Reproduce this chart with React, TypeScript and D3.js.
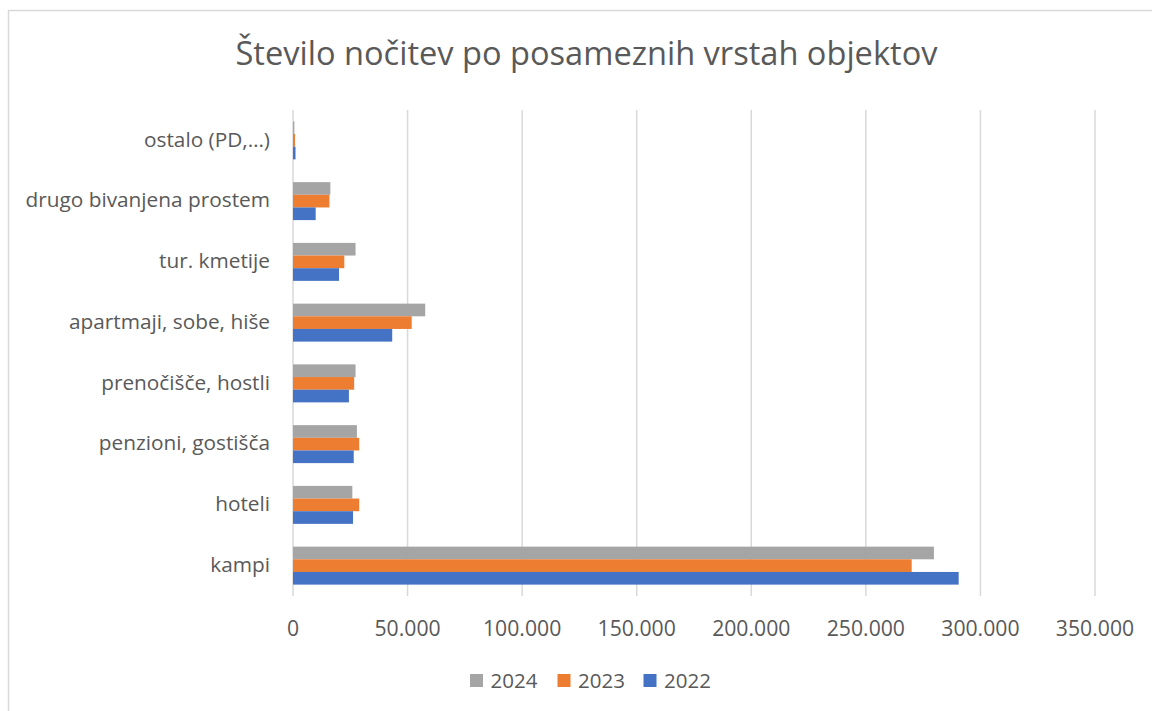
import React from "react";
import * as d3 from "d3";

const categories = [
  "ostalo (PD,…)",
  "drugo bivanjena prostem",
  "tur. kmetije",
  "apartmaji, sobe, hiše",
  "prenočišče, hostli",
  "penzioni, gostišča",
  "hoteli",
  "kampi",
];
const seriesNames = ["2024", "2023", "2022"];
const values2024 = [600, 16300, 27300, 57700, 27300, 27900, 25900, 279700];
const values2023 = [900, 15900, 22400, 51800, 26700, 28900, 28900, 270000];
const values2022 = [1100, 9900, 20100, 43300, 24400, 26500, 26200, 290500];
const seriesColors = ["#A5A5A5", "#ED7D31", "#4472C4"];
const xTicks = [0, 50000, 100000, 150000, 200000, 250000, 300000, 350000];
const title = "Število nočitev po posameznih vrstah objektov";

const W = 1152;
const H = 711;
const FONT = "'Open Sans', Lato, sans-serif";
const TEXT = "#595959";
const GRID = "#D9D9D9";

export default function App() {
  const plotLeft = 293;
  const plotRight = 1095;
  const plotTop = 110;
  const plotBottom = 596;

  const x = d3.scaleLinear().domain([0, 350000]).range([plotLeft, plotRight]);
  const y = d3
    .scaleBand<string>()
    .domain(categories)
    .range([plotTop, plotBottom])
    .paddingInner(0)
    .paddingOuter(0);
  const inner = d3
    .scaleBand<string>()
    .domain(seriesNames)
    .range([0, y.bandwidth()])
    .paddingInner(0)
    .paddingOuter(0.9);

  const allSeries = [values2024, values2023, values2022];
  const fmt = (v: number) =>
    v === 0 ? "0" : d3.format(",")(v).replace(/,/g, ".");

  const legendItems = [
    { name: "2024", color: seriesColors[0], x: 470 },
    { name: "2023", color: seriesColors[1], x: 557.5 },
    { name: "2022", color: seriesColors[2], x: 643.5 },
  ];

  return (
    <svg
      width={W}
      height={H}
      style={{ position: "absolute", left: 0, top: 0, background: "#fff" }}
      fontFamily={FONT}
    >
      <rect x={0} y={0} width={W} height={H} fill="#fff" />
      <rect
        x={8.5}
        y={10.5}
        width={W + 20}
        height={H + 20}
        fill="none"
        stroke={GRID}
        strokeWidth={1.5}
      />
      <text x={586.5} y={64.5} textAnchor="middle" fontSize={32.6} fill={TEXT}>
        {title}
      </text>

      {xTicks.map((t) => (
        <line
          key={"g" + t}
          x1={x(t)}
          x2={x(t)}
          y1={plotTop}
          y2={plotBottom}
          stroke={GRID}
          strokeWidth={1.5}
        />
      ))}

      {categories.map((c, i) => (
        <g key={c}>
          {allSeries.map((vals, si) => (
            <rect
              key={si}
              x={x(0)}
              y={(y(c) as number) + (inner(seriesNames[si]) as number)}
              width={x(vals[i]) - x(0)}
              height={inner.bandwidth()}
              fill={seriesColors[si]}
            />
          ))}
          <text
            x={270}
            y={(y(c) as number) + y.bandwidth() / 2}
            dy="0.3em"
            textAnchor="end"
            fontSize={20.8}
            fill={TEXT}
          >
            {c}
          </text>
        </g>
      ))}

      {xTicks.map((t) => (
        <text
          key={"t" + t}
          x={x(t)}
          y={636}
          textAnchor="middle"
          fontSize={21.2}
          fill={TEXT}
        >
          {fmt(t)}
        </text>
      ))}

      {legendItems.map((l) => (
        <g key={l.name}>
          <rect x={l.x} y={674} width={13} height={13} fill={l.color} />
          <text x={l.x + 20.5} y={688} fontSize={20.5} fill={TEXT}>
            {l.name}
          </text>
        </g>
      ))}
    </svg>
  );
}
